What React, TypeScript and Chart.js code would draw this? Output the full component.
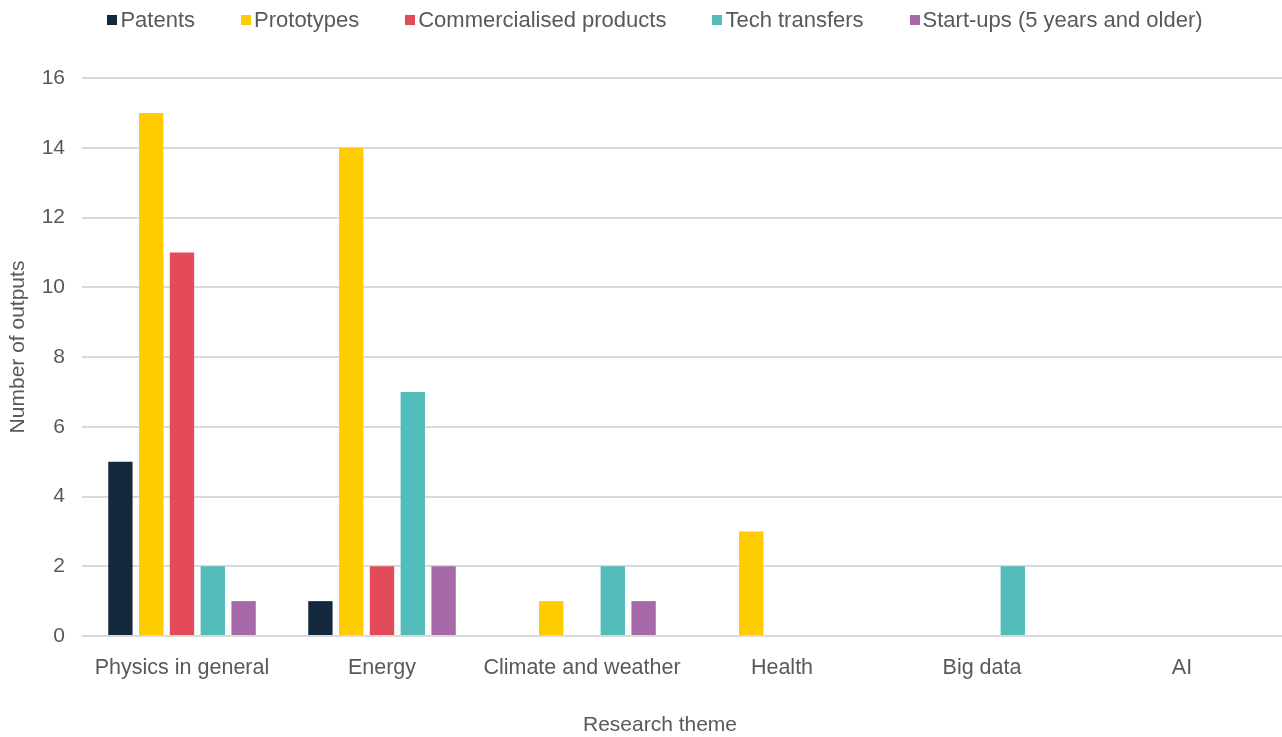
import React, { useEffect, useRef } from "react";
import { Chart, registerables } from "chart.js";

Chart.register(...registerables);

const categories = ["Physics in general", "Energy", "Climate and weather", "Health", "Big data", "AI"];
const seriesNames = ["Patents", "Prototypes", "Commercialised products", "Tech transfers", "Start-ups (5 years and older)"];
const patents = [5, 1, 0, 0, 0, 0];
const prototypes = [15, 14, 1, 3, 0, 0];
const commercialised = [11, 2, 0, 0, 0, 0];
const techTransfers = [2, 7, 2, 0, 2, 0];
const startups = [1, 2, 1, 0, 0, 0];
const seriesColors = ["#14293d", "#ffcc00", "#e34a5a", "#53bdbc", "#a668a7"];
const yMin = 0;
const yMax = 16;
const yStep = 2;
const yTitle = "Number of outputs";
const xTitle = "Research theme";

const FONT = "'Liberation Sans', Arial, sans-serif";
const TEXT = "#595959";
const GRID = "#dadada";

const decorPlugin = {
  id: "decor",
  afterDraw(chart: any) {
    const ctx = chart.ctx;
    const BOX = 10;
    const GAP = 3;
    const SPACING = 46;
    const CENTER = 655;
    const Y = 20;
    ctx.save();
    // legend
    ctx.font = `22px ${FONT}`;
    const items = chart.data.datasets.map((ds: any) => ({
      text: ds.label,
      color: ds.backgroundColor,
      w: BOX + GAP + ctx.measureText(ds.label).width,
    }));
    const total = items.reduce((s: number, i: any) => s + i.w, 0) + SPACING * (items.length - 1);
    let x = CENTER - total / 2;
    ctx.textBaseline = "middle";
    ctx.textAlign = "left";
    for (const it of items) {
      ctx.fillStyle = it.color;
      ctx.fillRect(Math.round(x), Y - BOX / 2, BOX, BOX);
      ctx.fillStyle = TEXT;
      ctx.fillText(it.text, x + BOX + GAP, Y + 1);
      x += it.w + SPACING;
    }
    // axis titles
    ctx.font = `21px ${FONT}`;
    ctx.fillStyle = TEXT;
    ctx.textAlign = "center";
    ctx.textBaseline = "middle";
    ctx.fillText(xTitle, 660, 725);
    ctx.translate(18, 347);
    ctx.rotate(-Math.PI / 2);
    ctx.fillText(yTitle, 0, 0);
    ctx.restore();
  },
};

export default function App() {
  const ref = useRef<HTMLCanvasElement | null>(null);
  useEffect(() => {
    if (!ref.current) return;
    const values = [patents, prototypes, commercialised, techTransfers, startups];
    const chart = new Chart(ref.current, {
      type: "bar",
      data: {
        labels: categories,
        datasets: seriesNames.map((name, i) => ({
          label: name,
          data: values[i],
          backgroundColor: seriesColors[i],
          borderWidth: 0,
          barPercentage: 0.79,
          categoryPercentage: 0.77,
        })),
      },
      options: {
        responsive: false,
        animation: false,
        layout: { padding: { top: 78, left: 0, right: 0, bottom: 0 } },
        plugins: {
          legend: { display: false },
          tooltip: { enabled: false },
        },
        scales: {
          x: {
            grid: { display: false },
            border: { display: false },
            ticks: { color: TEXT, font: { family: FONT, size: 21.5 }, padding: 11, maxRotation: 0, autoSkip: false },
            afterFit: (s: any) => { s.height = 101; },
          },
          y: {
            min: yMin,
            max: yMax,
            ticks: { stepSize: yStep, color: TEXT, font: { family: FONT, size: 21 }, padding: 17 },
            grid: { color: GRID, lineWidth: 2, drawTicks: false },
            border: { display: false },
            afterFit: (s: any) => { s.width = 82; },
          },
        },
      },
      plugins: [decorPlugin],
    });
    return () => chart.destroy();
  }, []);
  return (
    <div style={{ position: "absolute", left: 0, top: 0, width: 1282, height: 737, background: "#fff" }}>
      <canvas ref={ref} width={1282} height={737} style={{ display: "block" }} />
    </div>
  );
}
